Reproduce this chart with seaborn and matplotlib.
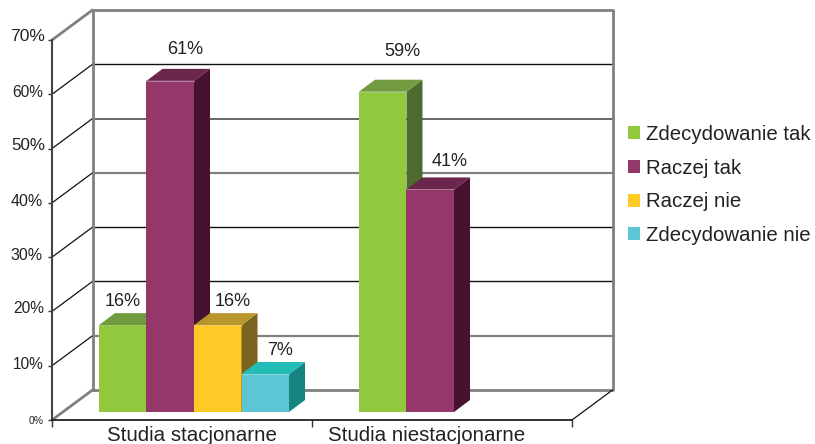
import matplotlib
matplotlib.use("Agg")
import matplotlib.pyplot as plt
from matplotlib.patches import Polygon
from matplotlib.transforms import ScaledTranslation
import pandas as pd
import seaborn as sns

# Survey results
categories = ["Studia stacjonarne", "Studia niestacjonarne"]
answers = ["Zdecydowanie tak", "Raczej tak", "Raczej nie", "Zdecydowanie nie"]
full_time = [16, 61, 16, 7]
part_time = [59, 41]
y_ticks = [0, 10, 20, 30, 40, 50, 60, 70]

front_colors = ["#92C83E", "#943769", "#FFC926", "#5CC6D6"]
top_colors = ["#729B3F", "#6B264E", "#B8962B", "#22BDB7"]
side_colors = ["#4F6A2D", "#47122F", "#7A6420", "#168480"]
rim_colors = ["#A9C97A", "#B88BA5", "#E6CF85", "#8FDAD8"]

# Hand-placed tick and value label styling, in pixels and points
tick_sizes = [7.5, 11.2, 11.2, 11.5, 11.5, 12.2, 11.2, 12.6]
tick_shift = [(0, 0), (0, 3), (0, 4), (-1, 3), (-1, 3), (2, 5), (-1, 3), (1, 5)]
value_offsets = [(0, 24), (15, 31), (15, 24), (15, 24), (20, 40), (19, 28)]

WIDTH, HEIGHT, DPI = 815, 444, 100
X_PER_PX = 2 / 520
Y_PER_PX = 70 / 380.0
BAR_SHIFT = (12, 8)       # bars stand this far behind the front plane
BAR_DEPTH = (16, 12)      # extrusion of each bar
WALL_DEPTH = (40.5, 30)   # depth of the floor

data = pd.DataFrame({
    "category": [categories[0]] * 4 + [categories[1]] * 2,
    "answer": answers + answers[:2],
    "value": full_time + part_time,
})

sns.set_theme(style="white")
plt.rcParams["font.family"] = ["Liberation Sans", "DejaVu Sans"]

fig = plt.figure(figsize=(WIDTH / DPI, HEIGHT / DPI), dpi=DPI, facecolor="white")
ax = fig.add_axes([52 / WIDTH, (HEIGHT - 420) / HEIGHT, 520 / WIDTH, 380.0 / HEIGHT])
ax.patch.set_alpha(0)

sns.barplot(
    data=data, x="category", y="value", hue="answer", order=categories,
    hue_order=answers, palette=front_colors, saturation=1, width=0.731,
    gap=0, dodge=True, linewidth=0, errorbar=None, ax=ax,
)
ax.set_xlim(-0.5, 1.5)
ax.set_ylim(0, 70)
ax.set_xlabel("")
ax.set_ylabel("")

wall_dx = WALL_DEPTH[0] * X_PER_PX
wall_dy = WALL_DEPTH[1] * Y_PER_PX
GREY = "#808080"

# Back wall, side wall edges and floor
grid_style = {10: (GREY, 1.6), 20: ("#111111", 1.0), 30: ("#111111", 1.0),
              40: (GREY, 1.6), 50: ("#666666", 1.4), 60: ("#111111", 1.0)}
for level in y_ticks[1:-1]:
    color, lw = grid_style[level]
    ax.plot([-0.5 + wall_dx, 1.5 + wall_dx], [level + wall_dy] * 2, color=color,
            lw=lw, clip_on=False, zorder=1)
    ax.plot([-0.5, -0.5 + wall_dx], [level, level + wall_dy], color="#111111",
            lw=0.9, clip_on=False, zorder=1)
wall_x = [-0.5 + wall_dx, -0.5 + wall_dx, 1.5 + wall_dx, 1.5 + wall_dx, -0.5 + wall_dx]
wall_y = [0 + wall_dy, 70 + wall_dy, 70 + wall_dy, 0 + wall_dy, 0 + wall_dy]
ax.plot(wall_x, wall_y, color=GREY, lw=2, clip_on=False, zorder=1.5)
ax.plot([-0.5, -0.5 + wall_dx], [70, 70 + wall_dy], color=GREY, lw=2, clip_on=False, zorder=1.5)
ax.plot([-0.5, -0.5 + wall_dx], [0, wall_dy], color=GREY, lw=2, clip_on=False, zorder=1.5)
ax.plot([1.5, 1.5 + wall_dx], [0, wall_dy], color="#111111", lw=0.9, clip_on=False, zorder=1.5)

# Push the bars back from the front plane and extrude them
bar_transform = ax.transData + ScaledTranslation(
    BAR_SHIFT[0] / DPI, BAR_SHIFT[1] / DPI, fig.dpi_scale_trans)
depth_x = BAR_DEPTH[0] * X_PER_PX
depth_y = BAR_DEPTH[1] * Y_PER_PX
bars = sorted((p for p in ax.patches if p.get_height() > 0), key=lambda p: p.get_x())
bar_hues = [0, 1, 2, 3, 0, 1]
for i, (bar, hue, offset) in enumerate(zip(bars, bar_hues, value_offsets)):
    x0, x1, h = bar.get_x(), bar.get_x() + bar.get_width(), bar.get_height()
    z = 3 + i
    bar.set_transform(bar_transform)
    bar.set_clip_on(False)
    bar.set_zorder(z)
    side = Polygon([(x1, 0), (x1 + depth_x, depth_y), (x1 + depth_x, h + depth_y), (x1, h)],
                   closed=True, facecolor=side_colors[hue], edgecolor="none",
                   transform=bar_transform, clip_on=False, zorder=z)
    top = Polygon([(x0, h), (x0 + depth_x, h + depth_y), (x1 + depth_x, h + depth_y), (x1, h)],
                  closed=True, facecolor=top_colors[hue], edgecolor="none",
                  transform=bar_transform, clip_on=False, zorder=z)
    ax.add_patch(side)
    ax.add_patch(top)
    ax.plot([x0, x1], [h, h], color=rim_colors[hue], lw=0.6, transform=bar_transform,
            clip_on=False, zorder=z, solid_capstyle="butt")
    ax.annotate(f"{h:.0f}%", xy=((x0 + x1) / 2, h), xycoords=bar_transform,
                xytext=(offset[0] * 72 / DPI, offset[1] * 72 / DPI),
                textcoords="offset points", ha="center", va="center",
                fontsize=13, color="#222222", zorder=20, annotation_clip=False)

# Axes lines and ticks on the front plane
sns.despine(ax=ax, top=True, right=True)
ax.spines["left"].set(color="#444444", linewidth=1.5, zorder=2)
ax.spines["bottom"].set(color="#111111", linewidth=1.2, zorder=2)
ax.set_yticks(y_ticks)
ax.set_yticklabels([f"{v}%" for v in y_ticks], color="#222222")
ax.tick_params(axis="y", left=True, length=3, width=1, color="#333333", pad=3)
ax.set_xticks([-0.5, 0.5, 1.5], minor=True)
ax.tick_params(axis="x", which="minor", bottom=True, length=5, width=1, color="#333333")
ax.tick_params(axis="x", which="major", bottom=False, length=0, pad=4.5,
               labelsize=14.8, labelcolor="#222222")

for label, size, (dx, dy) in zip(ax.get_yticklabels(), tick_sizes, tick_shift):
    label.set_fontsize(size)
    label.set_transform(label.get_transform() + ScaledTranslation(dx / DPI, dy / DPI, fig.dpi_scale_trans))
for label, dx in zip(ax.get_xticklabels(), [10, -15]):
    label.set_transform(label.get_transform() + ScaledTranslation(dx / DPI, 0, fig.dpi_scale_trans))

sns.move_legend(
    ax, loc="center left", bbox_to_anchor=(622 / WIDTH, 1 - 185 / HEIGHT),
    bbox_transform=fig.transFigure, title=None, frameon=False, fontsize=14.7,
    handlelength=0.59, handleheight=0.59, handletextpad=0.3, labelspacing=0.72,
    borderpad=0.3, borderaxespad=0, labelcolor="#222222",
)

fig.savefig("out.png", dpi=DPI)
